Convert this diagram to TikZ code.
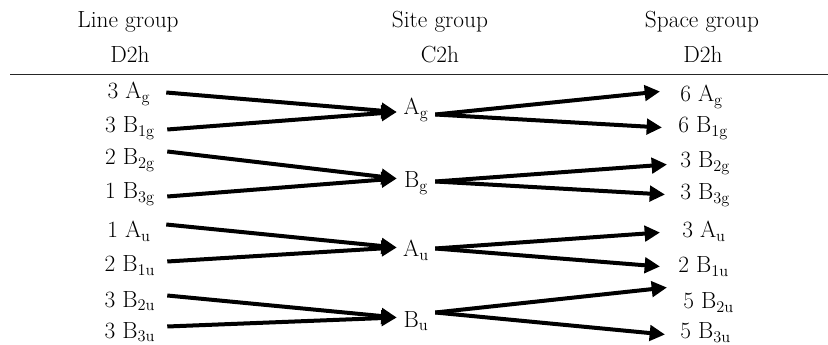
\documentclass[tikz,border=0pt]{standalone}
\usetikzlibrary{arrows.meta, calc}

\begin{document}
\begin{tikzpicture}[
    x=0.75pt, y=-0.75pt,
    every node/.style={font=\fontsize{17.5}{21}\selectfont},
    head/.style={anchor=base},
    irrep/.style={text height=12pt, text depth=0pt, inner xsep=0pt, inner ysep=0pt},
    lineirr/.style={irrep, anchor=base, minimum width=55.5pt},
    siteirr/.style={irrep, anchor=base, minimum width=28.5pt},
    spaceirr/.style={irrep, anchor=base west, inner xsep=15pt},
    corr/.style={-{Triangle[length=11.5pt, width=11.5pt]}, line width=3pt},
]
\useasboundingbox (0,0) rectangle (828,345);

% Column headings
\node[head] (linegrp) at (128,28) {Line group};
\node[head] (linepg) at (130,63) {D2h};
\node[head] (sitegrp) at (440,28) {Site group};
\node[head] (sitepg) at (440,63) {C2h};
\node[head] (spacegrp) at (702,28) {Space group};
\node[head] (spacepg) at (703,63) {D2h};

\draw[line width=0.6pt, black!85] (10,74) -- (828,74);

% Line group irreps
\node[lineirr] (l1) at (129,99) {3 A\textsubscript{g}};
\node[lineirr] (l2) at (130,133) {3 B\textsubscript{1g}};
\node[lineirr] (l3) at (130,165) {2 B\textsubscript{2g}};
\node[lineirr] (l4) at (130,199) {1 B\textsubscript{3g}};
\node[lineirr] (l5) at (129,238) {1 A\textsubscript{u}};
\node[lineirr] (l6) at (130,272) {2 B\textsubscript{1u}};
\node[lineirr] (l7) at (130,307) {3 B\textsubscript{2u}};
\node[lineirr] (l8) at (130,338) {3 B\textsubscript{3u}};

% Site group irreps
\node[siteirr] (m1) at (416,115) {A\textsubscript{g}};
\node[siteirr] (m2) at (416,188) {B\textsubscript{g}};
\node[siteirr] (m3) at (416,257) {A\textsubscript{u}};
\node[siteirr] (m4) at (416,327) {B\textsubscript{u}};

% Space group irreps
\node[spaceirr] (r1) at (660,102) {6 A\textsubscript{g}};
\node[spaceirr] (r2) at (658,133) {6 B\textsubscript{1g}};
\node[spaceirr] (r3) at (660,168) {3 B\textsubscript{2g}};
\node[spaceirr] (r4) at (660,200) {3 B\textsubscript{3g}};
\node[spaceirr] (r5) at (662,238) {3 A\textsubscript{u}};
\node[spaceirr] (r6) at (658,273) {2 B\textsubscript{1u}};
\node[spaceirr] (r7) at (663,309) {5 B\textsubscript{2u}};
\node[spaceirr] (r8) at (660,339) {5 B\textsubscript{3u}};

% line group -> site group
\foreach \from/\to/\ds/\de in {l1/m1/1.5/5, l2/m1/4.5/5, l3/m2/-5.5/-1.5, l4/m2/5.5/-1.5,
                                l5/m3/-5.5/-1.5, l6/m3/-2.5/-1.5, l7/m4/-3.5/-1.5, l8/m4/-3.5/-1.5}
  \draw[corr] ($(\from.east)+(0,\ds)$) -- ($(\to.west)+(0,\de)$);

% site group -> space group
\foreach \from/\to/\ds/\dx/\de in {m1/r1/7.5/0/-2.5, m1/r2/7.5/4/2.5, m2/r3/1.5/7/4.5, m2/r4/1.5/5/2.5,
                                    m3/r5/-0.5/-2/2.5, m3/r6/-0.5/2/1.5, m4/r7/-6.5/4/-13.5, m4/r8/-6.5/5/3.5}
  \draw[corr] ($(\from.east)+(0,\ds)$) -- ($(\to.west)+(\dx,\de)$);

\end{tikzpicture}
\end{document}
